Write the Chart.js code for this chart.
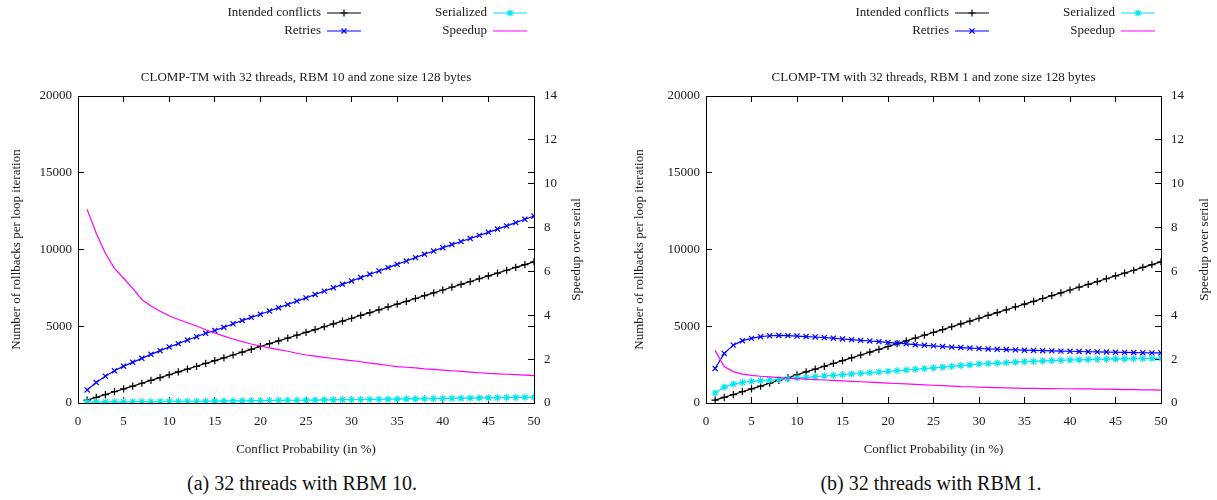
<!DOCTYPE html>
<html>
<head>
<meta charset="utf-8">
<title>CLOMP-TM conflict probability</title>
<script src="https://cdn.jsdelivr.net/npm/chart.js@4.4.1/dist/chart.umd.min.js"></script>
<style>
  html, body { margin: 0; padding: 0; background: #fff; }
  body { width: 1217px; height: 500px; position: relative; overflow: hidden; font-family: "Liberation Serif", "Times New Roman", serif; color: #111; }
  canvas { position: absolute; top: 0; }
  #chartA { left: 0; }
  #chartB { left: 608px; }
  .caption { position: absolute; top: 471px; width: 320px; margin-left: -160px; text-align: center; font-size: 20px; line-height: 24px; }
</style>
</head>
<body>
<canvas id="chartA" width="608" height="462"></canvas>
<canvas id="chartB" width="609" height="462"></canvas>
<div class="caption" style="left:302px">(a) 32 threads with RBM 10.</div>
<div class="caption" style="left:931px">(b) 32 threads with RBM 1.</div>

<script>
// ================= DATA =================
const conflictProb = [
  1, 2, 3, 4, 5, 6, 7, 8, 9, 10, 11, 12, 13, 14, 15, 16, 17, 18, 19, 20, 21, 22, 23, 24, 25,
  26, 27, 28, 29, 30, 31, 32, 33, 34, 35, 36, 37, 38, 39, 40, 41, 42, 43, 44, 45, 46, 47, 48, 49, 50
];

// same for both runs
const intendedConflicts = [
  184, 368, 552, 736, 920, 1104, 1288, 1472, 1656, 1840, 2024, 2208, 2392, 2576, 2760, 2944, 3128,
  3312, 3496, 3680, 3864, 4048, 4232, 4416, 4600, 4784, 4968, 5152, 5336, 5520, 5704, 5888, 6072,
  6256, 6440, 6624, 6808, 6992, 7176, 7360, 7544, 7728, 7912, 8096, 8280, 8464, 8648, 8832, 9016, 9200
];

// (a) RBM 10
const retriesA = [
  850, 1330, 1750, 2100, 2400, 2650, 2910, 3170, 3410, 3650, 3870, 4100, 4320, 4540, 4720, 4930, 5160,
  5370, 5580, 5780, 5990, 6210, 6420, 6640, 6850, 7070, 7290, 7510, 7730, 7950, 8170, 8390, 8600,
  8820, 9030, 9250, 9470, 9690, 9900, 10120, 10320, 10520, 10720, 10920, 11120, 11330, 11540, 11750, 11970, 12180
];
const serializedA = [
  60, 65, 70, 74, 78, 82, 86, 90, 95, 100, 105, 110, 115, 120, 126, 132, 138,
  144, 150, 156, 162, 168, 174, 180, 186, 193, 200, 207, 214, 221, 228, 235, 242,
  250, 258, 266, 274, 282, 290, 298, 306, 314, 322, 330, 338, 346, 354, 362, 370, 380
];
const speedupA = [
  8.83, 7.74, 6.83, 6.14, 5.69, 5.23, 4.72, 4.42, 4.18, 3.98, 3.81, 3.66, 3.51, 3.34, 3.19, 3.05, 2.92,
  2.80, 2.69, 2.60, 2.51, 2.43, 2.36, 2.27, 2.19, 2.14, 2.08, 2.03, 1.98, 1.93, 1.88, 1.82, 1.77,
  1.71, 1.66, 1.63, 1.60, 1.56, 1.53, 1.50, 1.47, 1.44, 1.41, 1.38, 1.35, 1.33, 1.31, 1.29, 1.27, 1.25
];

// (b) RBM 1
const retriesB = [
  2250, 3230, 3770, 4060, 4210, 4320, 4380, 4400, 4390, 4360, 4330, 4300, 4260, 4220, 4170, 4130, 4080,
  4040, 4000, 3950, 3900, 3850, 3800, 3760, 3720, 3680, 3640, 3610, 3580, 3550, 3520, 3500, 3480,
  3460, 3440, 3425, 3410, 3395, 3380, 3370, 3355, 3340, 3330, 3320, 3305, 3295, 3285, 3275, 3265, 3260
];
const serializedB = [
  650, 1040, 1230, 1340, 1410, 1460, 1500, 1545, 1585, 1630, 1670, 1715, 1760, 1800, 1850, 1890, 1930,
  1975, 2020, 2070, 2110, 2150, 2200, 2240, 2290, 2340, 2390, 2440, 2490, 2540, 2570, 2600, 2630,
  2660, 2690, 2715, 2740, 2760, 2780, 2800, 2815, 2830, 2845, 2860, 2870, 2880, 2890, 2900, 2905, 2910
];
const speedupB = [
  2.40, 1.66, 1.43, 1.32, 1.26, 1.22, 1.19, 1.16, 1.13, 1.11, 1.09, 1.07, 1.05, 1.03, 1.01, 0.99, 0.97,
  0.95, 0.93, 0.91, 0.89, 0.87, 0.85, 0.83, 0.81, 0.79, 0.77, 0.75, 0.74, 0.72, 0.71, 0.70, 0.69,
  0.68, 0.67, 0.67, 0.66, 0.66, 0.65, 0.65, 0.64, 0.64, 0.63, 0.63, 0.62, 0.61, 0.61, 0.60, 0.60, 0.59
];

// axis ticks
const xTicks = [0, 5, 10, 15, 20, 25, 30, 35, 40, 45, 50];
const rollbackTicks = [0, 5000, 10000, 15000, 20000];
const speedupTicks = [0, 2, 4, 6, 8, 10, 12, 14];


// ================= STYLE =================
const FONT = '"Liberation Serif", "Times New Roman", serif';
const TEXT = '#1a1a1a';
const TICK_IN = -6;

const COLORS = {
  intended: '#000000',
  retries: '#0000ff',
  serialized: '#00e6f0',
  speedup: '#ff00ff'
};


// ================= GNUPLOT-LIKE KEY =================
const gnuLegend = {
  id: 'gnuLegend',
  afterDraw(chart, args, opts) {
    const ctx = chart.ctx;
    ctx.save();
    ctx.font = '13px ' + FONT;
    ctx.textAlign = 'right';
    ctx.textBaseline = 'middle';

    chart.data.datasets.forEach((ds, i) => {
      const slot = opts.slots[i];
      if (!slot) return;

      ctx.fillStyle = TEXT;
      ctx.fillText(ds.label, slot.x, slot.y);

      const x0 = slot.x + 6;
      const x1 = x0 + 34;
      ctx.strokeStyle = ds.borderColor;
      ctx.fillStyle = ds.borderColor;
      ctx.lineWidth = 1.2;
      ctx.beginPath();
      ctx.moveTo(x0, slot.y);
      ctx.lineTo(x1, slot.y);
      ctx.stroke();

      if (ds.pointRadius > 0) {
        Chart.helpers.drawPoint(ctx, {
          pointStyle: ds.pointStyle,
          radius: ds.pointRadius,
          borderWidth: 1.2,
          rotation: 0
        }, (x0 + x1) / 2, slot.y);
      }
    });

    ctx.restore();
  }
};


// ================= RIGHT AXIS TITLE (reads bottom-up, like gnuplot) =================
const rightTitle = {
  id: 'rightTitle',
  afterDraw(chart, args, opts) {
    const scale = chart.scales.y2;
    if (!scale || !opts.text) return;

    const ctx = chart.ctx;
    ctx.save();
    ctx.translate(scale.right - opts.offset, (chart.chartArea.top + chart.chartArea.bottom) / 2);
    ctx.rotate(-Math.PI / 2);
    ctx.font = '13px ' + FONT;
    ctx.fillStyle = TEXT;
    ctx.textAlign = 'center';
    ctx.textBaseline = 'middle';
    ctx.fillText(opts.text, 0, 0);
    ctx.restore();
  }
};


// ================= BUILD ONE PANEL =================
function makePanel(canvasId, cfg) {

  const fixWidth = w => scale => { scale.width = w; };
  const fixHeight = h => scale => { scale.height = h; };
  const plain = v => String(v);

  const lineSet = (label, data, color, style, axis, order) => ({
    label,
    data,
    yAxisID: axis,
    borderColor: color,
    backgroundColor: color,
    borderWidth: 1.2,
    pointStyle: style || false,
    pointRadius: style ? 3.6 : 0,
    pointBorderWidth: 1.2,
    pointHoverRadius: 0,
    tension: 0,
    fill: false,
    order
  });

  return new Chart(document.getElementById(canvasId), {
    type: 'line',
    data: {
      labels: conflictProb,
      datasets: [
        lineSet('Intended conflicts', intendedConflicts, COLORS.intended, 'cross', 'y', 4),
        lineSet('Retries', cfg.retries, COLORS.retries, 'crossRot', 'y', 3),
        lineSet('Serialized', cfg.serialized, COLORS.serialized, 'star', 'y', 2),
        lineSet('Speedup', cfg.speedup, COLORS.speedup, null, 'y2', 1)
      ]
    },
    options: {
      responsive: false,
      animation: false,
      devicePixelRatio: 1,
      events: [],
      layout: { padding: 0 },
      scales: {
        x: {
          type: 'linear',
          position: 'bottom',
          min: 0,
          max: 50,
          afterBuildTicks: s => { s.ticks = xTicks.map(v => ({ value: v })); },
          afterFit: fixHeight(59),
          grid: { drawOnChartArea: false, tickLength: TICK_IN, color: '#000' },
          border: { color: '#000', width: 1 },
          ticks: { padding: 17, color: TEXT, font: { family: FONT, size: 13 }, maxRotation: 0, callback: plain },
          title: {
            display: true,
            text: 'Conflict Probability (in %)',
            color: TEXT,
            font: { family: FONT, size: 13 },
            padding: { top: 0, bottom: 5 }
          }
        },
        xTop: {
          type: 'linear',
          position: 'top',
          min: 0,
          max: 50,
          afterBuildTicks: s => { s.ticks = xTicks.map(v => ({ value: v })); },
          afterFit: fixHeight(0),
          grid: { drawOnChartArea: false, tickLength: TICK_IN, color: '#000' },
          border: { color: '#000', width: 1 },
          ticks: { display: false }
        },
        y: {
          type: 'linear',
          position: 'left',
          min: 0,
          max: 20000,
          afterBuildTicks: s => { s.ticks = rollbackTicks.map(v => ({ value: v })); },
          afterFit: fixWidth(cfg.leftWidth),
          grid: { drawOnChartArea: false, tickLength: TICK_IN, color: '#000' },
          border: { color: '#000', width: 1 },
          ticks: { padding: 12, color: TEXT, font: { family: FONT, size: 13 }, callback: plain },
          title: {
            display: true,
            text: 'Number of rollbacks per loop iteration',
            color: TEXT,
            font: { family: FONT, size: 13 },
            padding: { top: cfg.leftTitlePad, bottom: 0 }
          }
        },
        yMirror: {
          type: 'linear',
          position: 'right',
          weight: 0,
          min: 0,
          max: 20000,
          afterBuildTicks: s => { s.ticks = rollbackTicks.map(v => ({ value: v })); },
          afterFit: fixWidth(0),
          grid: { drawOnChartArea: false, tickLength: TICK_IN, color: '#000' },
          border: { display: false },
          ticks: { display: false }
        },
        y2: {
          type: 'linear',
          position: 'right',
          weight: 1,
          min: 0,
          max: 14,
          afterBuildTicks: s => { s.ticks = speedupTicks.map(v => ({ value: v })); },
          afterFit: fixWidth(cfg.rightWidth),
          grid: { drawOnChartArea: false, tickLength: TICK_IN, color: '#000' },
          border: { color: '#000', width: 1 },
          ticks: { padding: 16, color: TEXT, font: { family: FONT, size: 13 }, callback: plain },
          title: { display: false }
        }
      },
      plugins: {
        legend: { display: false },
        tooltip: { enabled: false },
        title: {
          display: true,
          fullSize: false,
          text: cfg.title,
          color: TEXT,
          font: { family: FONT, size: 13, weight: 'normal' },
          padding: { top: 70.2, bottom: 10.2 }
        },
        gnuLegend: { slots: cfg.legendSlots },
        rightTitle: { text: 'Speedup over serial', offset: cfg.rightTitleOffset }
      }
    },
    plugins: [gnuLegend, rightTitle]
  });
}


// ================= START =================
makePanel('chartA', {
  title: 'CLOMP-TM with 32 threads, RBM 10 and zone size 128 bytes',
  retries: retriesA,
  serialized: serializedA,
  speedup: speedupA,
  leftWidth: 78,
  rightWidth: 74,
  leftTitlePad: 9,
  rightTitleOffset: 31,
  legendSlots: [
    { x: 321, y: 13 }, { x: 321, y: 31 },
    { x: 487, y: 13 }, { x: 487, y: 31 }
  ]
});

makePanel('chartB', {
  title: 'CLOMP-TM with 32 threads, RBM 1 and zone size 128 bytes',
  retries: retriesB,
  serialized: serializedB,
  speedup: speedupB,
  leftWidth: 98,
  rightWidth: 56,
  leftTitlePad: 24,
  rightTitleOffset: 12,
  legendSlots: [
    { x: 341, y: 13 }, { x: 341, y: 31 },
    { x: 507, y: 13 }, { x: 507, y: 31 }
  ]
});
</script>
</body>
</html>
